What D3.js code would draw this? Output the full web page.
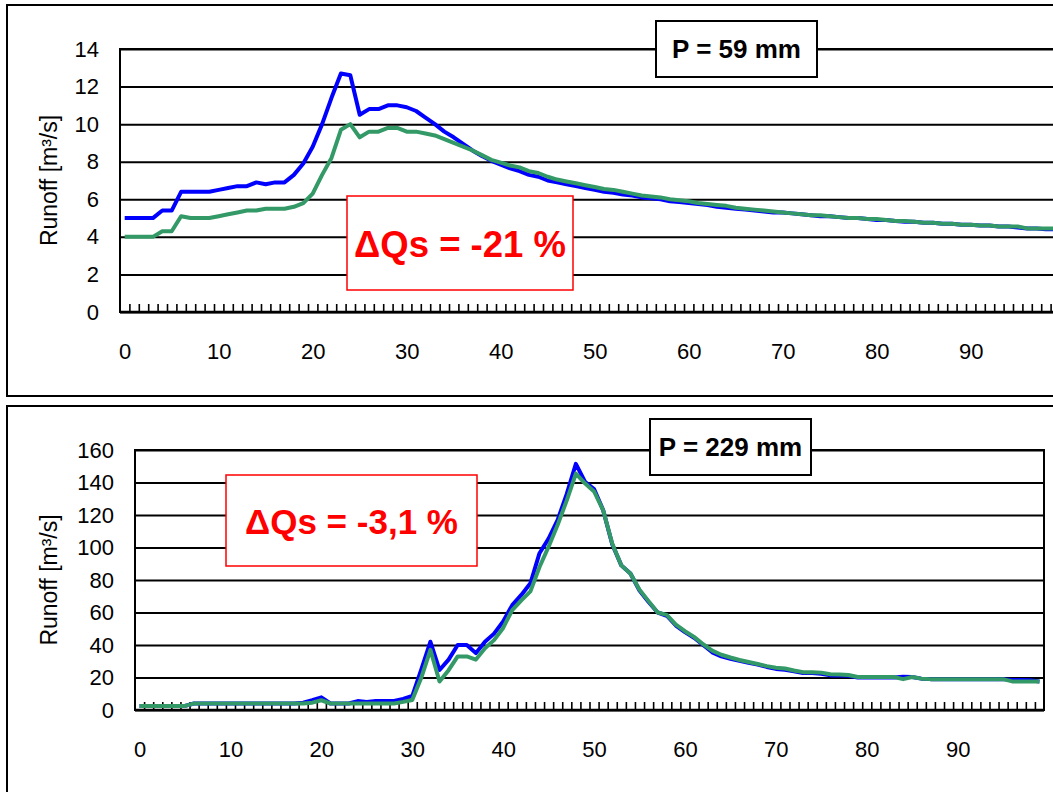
<!DOCTYPE html>
<html>
<head>
<meta charset="utf-8">
<script src="https://cdn.jsdelivr.net/npm/d3@7"></script>
<style>
  body { margin: 0; background: #fff; }
  svg { display: block; font-family: "Liberation Sans", Arial, sans-serif; }
</style>
</head>
<body>
<svg id="chart"></svg>
<script>
// categories (time steps) and x tick labels
const steps = d3.range(0, 100);
const xTickLabels = [0, 10, 20, 30, 40, 50, 60, 70, 80, 90];

// event 1, P = 59 mm
const yTicks1 = [0, 2, 4, 6, 8, 10, 12, 14];
const blue1 = [
  5.0, 5.0, 5.0, 5.0, 5.4, 5.4, 6.4, 6.4, 6.4, 6.4,
  6.5, 6.6, 6.7, 6.7, 6.9, 6.8, 6.9, 6.9, 7.3, 7.9,
  8.8, 10.0, 11.4, 12.7, 12.6, 10.5, 10.8, 10.8, 11.0, 11.0,
  10.9, 10.7, 10.35, 10.0, 9.6, 9.3, 8.95, 8.6, 8.3, 8.05,
  7.85, 7.65, 7.5, 7.3, 7.2, 7.0, 6.9, 6.8, 6.7, 6.6,
  6.5, 6.4, 6.35, 6.25, 6.2, 6.1, 6.05, 6.0, 5.9, 5.85,
  5.8, 5.75, 5.7, 5.6, 5.55, 5.5, 5.45, 5.4, 5.35, 5.3,
  5.3, 5.25, 5.2, 5.15, 5.1, 5.1, 5.05, 5.0, 5.0, 4.95,
  4.9, 4.9, 4.85, 4.8, 4.8, 4.75, 4.75, 4.7, 4.7, 4.65,
  4.65, 4.6, 4.6, 4.55, 4.55, 4.5, 4.45, 4.45, 4.4, 4.4
];
const green1 = [
  4.0, 4.0, 4.0, 4.0, 4.3, 4.3, 5.1, 5.0, 5.0, 5.0,
  5.1, 5.2, 5.3, 5.4, 5.4, 5.5, 5.5, 5.5, 5.6, 5.8,
  6.3, 7.3, 8.2, 9.7, 10.0, 9.3, 9.6, 9.6, 9.8, 9.8,
  9.6, 9.6, 9.5, 9.4, 9.2, 9.0, 8.8, 8.6, 8.35, 8.1,
  7.95, 7.8, 7.7, 7.5, 7.4, 7.2, 7.05, 6.95, 6.85, 6.75,
  6.65, 6.55, 6.5, 6.4, 6.3, 6.2, 6.15, 6.1, 6.0, 5.95,
  5.9, 5.8, 5.75, 5.7, 5.65, 5.55, 5.5, 5.45, 5.4, 5.35,
  5.3, 5.25, 5.2, 5.15, 5.15, 5.1, 5.05, 5.0, 5.0, 4.95,
  4.95, 4.9, 4.85, 4.85, 4.8, 4.75, 4.75, 4.7, 4.7, 4.65,
  4.65, 4.6, 4.6, 4.55, 4.55, 4.55, 4.45, 4.45, 4.45, 4.45
];

// event 2, P = 229 mm
const yTicks2 = [0, 20, 40, 60, 80, 100, 120, 140, 160];
const blue2 = [
  2.5, 2.5, 2.5, 2.5, 2.5, 2.5, 4, 4, 4, 4,
  4, 4, 4, 4, 4, 4, 4, 4, 4.5, 6,
  7.8, 4, 4, 4, 5.5, 5, 5.5, 5.5, 5.5, 6.8,
  8.6, 25, 42, 24.6, 31, 40, 40, 35, 42, 47,
  54.5, 64.5, 70.8, 78, 96.5, 105.5, 117, 133, 151.5, 140.5,
  136, 123, 102, 89, 84, 73.5, 66.5, 60, 58, 52,
  48, 44.5, 40, 35.5, 33, 31.5, 30.3, 29, 28, 26.5,
  25.3, 24.8, 23.8, 22.8, 22.8, 22.3, 21.3, 21.3, 21, 20,
  20, 20, 20, 20, 20.5, 20.3, 19.3, 19, 19, 19,
  19, 19, 19, 19, 19, 19, 18.5, 18.5, 18.3, 17.6
];
const green2 = [
  2.5, 2.5, 2.5, 2.5, 2.5, 2.5, 4, 4, 4, 4,
  4, 4, 4, 4, 4, 4, 4, 4, 4, 4.5,
  6, 4, 4, 4, 4, 4, 4, 4, 4, 5,
  6.2, 20, 37, 17.5, 24.5, 33, 33, 31, 38, 43,
  50.5, 61.5, 67.5, 73, 88, 100.5, 114, 129, 145.5, 139.5,
  134.5, 123, 102.5, 89, 84, 74, 67, 60, 58.5, 52.5,
  48.5, 45, 40.5, 36.5, 34, 32.3, 30.8, 29.5, 28.3, 27,
  26, 25.5, 24.3, 23.3, 23.3, 23, 22, 21.8, 21.5, 20.3,
  20.3, 20.3, 20.3, 20.3, 19, 20.3, 19.3, 19, 19, 19,
  19, 19, 19, 19, 19, 19, 17.6, 17.6, 17.6, 17.6
];

const width = 1053;
const height = 792;

const svg = d3.select("#chart")
  .attr("width", width)
  .attr("height", height)
  .attr("viewBox", [0, 0, width, height]);

function drawPanel(p) {
  const g = svg.append("g");

  // panel frame
  g.append("rect")
    .attr("x", p.frame[0]).attr("y", p.frame[1])
    .attr("width", p.frame[2]).attr("height", p.frame[3])
    .attr("fill", "#fff").attr("stroke", "#000").attr("stroke-width", 2);

  const x = d3.scaleLinear([-0.5, steps.length - 0.5], [p.left, p.right]);
  const y = d3.scaleLinear([p.yTicks[0], p.yTicks[p.yTicks.length - 1]], [p.bottom, p.top]);

  // horizontal gridlines
  g.append("g")
    .attr("transform", `translate(${p.left},0)`)
    .call(d3.axisLeft(y).tickValues(p.yTicks).tickSize(-(p.right - p.left)).tickFormat(""))
    .call(a => a.select(".domain").remove())
    .selectAll("line").attr("stroke", "#000").attr("stroke-width", 2);

  // y tick labels
  g.append("g")
    .attr("transform", `translate(${p.left - 21},0)`)
    .call(d3.axisLeft(y).tickValues(p.yTicks).tickSize(0))
    .call(a => a.select(".domain").remove())
    .selectAll("text")
      .attr("x", 0)
      .attr("fill", "#000")
      .style("font-size", "22px")
      .style("font-family", "Liberation Sans, Arial, sans-serif");

  // plot border
  g.append("rect")
    .attr("x", p.left).attr("y", p.top)
    .attr("width", p.right - p.left).attr("height", p.bottom - p.top)
    .attr("fill", "none").attr("stroke", "#000").attr("stroke-width", 2);

  // inner tick marks at category boundaries
  g.append("g")
    .attr("transform", `translate(0,${p.bottom})`)
    .call(d3.axisBottom(x).tickValues(steps.slice(0, -1).map(d => d + 0.5)).tickSize(-8).tickFormat(""))
    .call(a => a.select(".domain").remove())
    .selectAll("line").attr("stroke", "#000").attr("stroke-width", 1.6);

  // x tick labels
  g.append("g")
    .attr("transform", `translate(0,${p.bottom})`)
    .call(d3.axisBottom(x).tickValues(xTickLabels).tickSize(0).tickPadding(31))
    .call(a => a.select(".domain").remove())
    .selectAll("text")
      .attr("fill", "#000")
      .style("font-size", "22px")
      .style("font-family", "Liberation Sans, Arial, sans-serif");

  // x axis line
  g.append("line")
    .attr("x1", p.left).attr("x2", p.right)
    .attr("y1", p.bottom).attr("y2", p.bottom)
    .attr("stroke", "#000").attr("stroke-width", 2.5);

  // y axis title
  g.append("text")
    .attr("transform", `translate(${p.titleX},${(p.top + p.bottom) / 2}) rotate(-90)`)
    .attr("text-anchor", "middle")
    .style("font-size", "23px")
    .text("Runoff [m³/s]");

  const line = d3.line()
    .x((d, i) => x(steps[i]))
    .y(d => y(d));

  g.append("path")
    .datum(p.blue)
    .attr("d", line)
    .attr("fill", "none").attr("stroke", "#0000ff")
    .attr("stroke-width", 4).attr("stroke-linejoin", "round");

  g.append("path")
    .datum(p.green)
    .attr("d", line)
    .attr("fill", "none").attr("stroke", "#339966")
    .attr("stroke-width", 4).attr("stroke-linejoin", "round");

  // precipitation box
  g.append("rect")
    .attr("x", p.pBox[0]).attr("y", p.pBox[1])
    .attr("width", p.pBox[2]).attr("height", p.pBox[3])
    .attr("fill", "#fff").attr("stroke", "#000").attr("stroke-width", 2);
  g.append("text")
    .attr("x", p.pBox[0] + p.pBox[2] / 2)
    .attr("y", p.pBox[1] + p.pBox[3] / 2 + 9)
    .attr("text-anchor", "middle")
    .style("font-size", "26px").style("font-weight", "bold")
    .text(p.pText);

  // delta box
  g.append("rect")
    .attr("x", p.dBox[0]).attr("y", p.dBox[1])
    .attr("width", p.dBox[2]).attr("height", p.dBox[3])
    .attr("fill", "#fff").attr("stroke", "#ff0000").attr("stroke-width", 1.5);
  g.append("text")
    .attr("x", p.dBox[0] + p.dBox[2] / 2)
    .attr("y", p.dBox[1] + p.dBox[3] / 2 + p.dShift)
    .attr("text-anchor", "middle")
    .attr("fill", "#ff0000")
    .style("font-size", p.dSize + "px").style("font-weight", "bold")
    .text(p.dText);
}

drawPanel({
  frame: [7, 5, 1060, 391],
  left: 120, right: 1060, top: 49, bottom: 312,
  yTicks: yTicks1, titleX: 57,
  blue: blue1, green: green1,
  pBox: [656, 21, 161, 56], pText: "P = 59 mm",
  dBox: [347, 196, 226, 94], dText: "ΔQs = -21 %", dSize: 36.5, dShift: 14
});

drawPanel({
  frame: [7, 406, 1060, 400],
  left: 135, right: 1044, top: 450, bottom: 710,
  yTicks: yTicks2, titleX: 57,
  blue: blue2, green: green2,
  pBox: [650, 419, 161, 56], pText: "P = 229 mm",
  dBox: [226, 475, 251, 91], dText: "ΔQs = -3,1 %", dSize: 35, dShift: 13
});
</script>
</body>
</html>
